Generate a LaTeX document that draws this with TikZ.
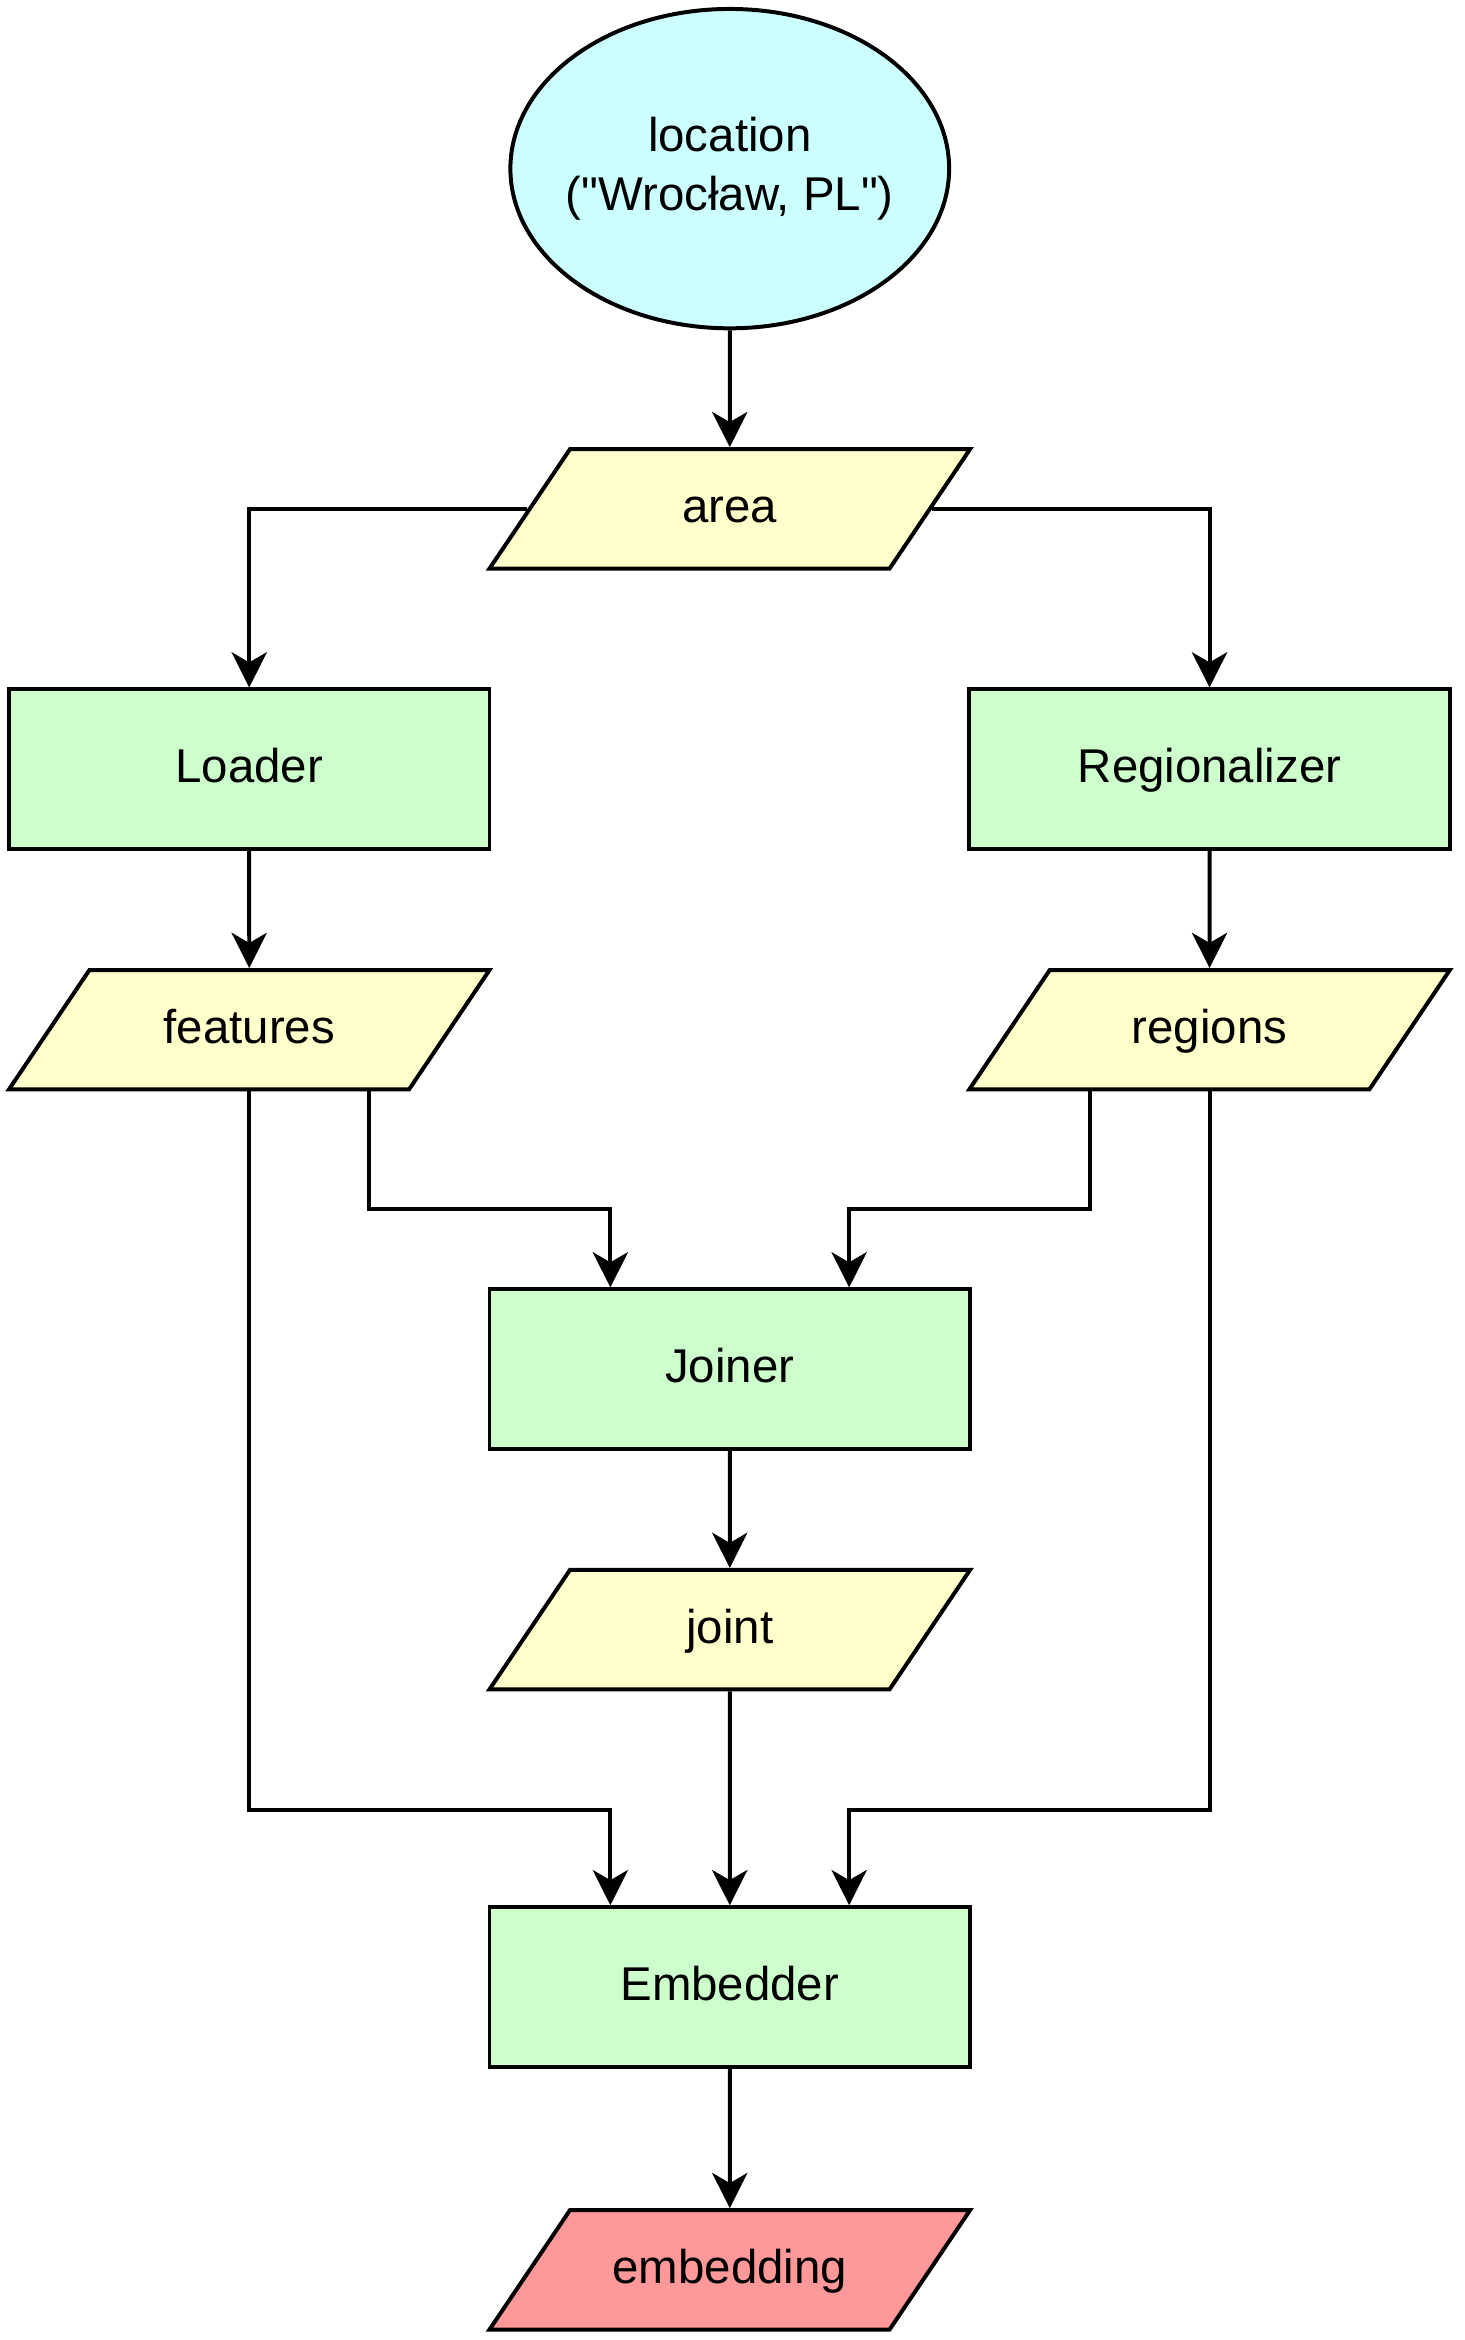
\documentclass[tikz,border=0pt]{standalone}
\usepackage{fontspec}
\setmainfont{Liberation Sans}[Ligatures=TeXOff]
\usetikzlibrary{arrows.meta,shapes.geometric}

\definecolor{inputcyan}{HTML}{CCFFFF}
\definecolor{datayellow}{HTML}{FFFFCC}
\definecolor{modulegreen}{HTML}{CCFFCC}
\definecolor{outputred}{HTML}{FF9999}

\tikzset{
    every node/.style={font=\fontsize{22.6pt}{28.4pt}\selectfont},
    source/.style={ellipse, draw, line width=1.9pt, fill=inputcyan, align=center,
        inner xsep=-0.6cm, inner ysep=0pt, minimum width=7.35cm, minimum height=5.35cm},
    data/.style={trapezium, trapezium left angle=56, trapezium right angle=124,
        trapezium stretches body=true, draw, line width=1.9pt, fill=datayellow,
        text height=17pt, text depth=4pt, inner ysep=0.63cm,
        minimum width=8.05cm, minimum height=2cm},
    module/.style={rectangle, draw, line width=1.9pt, fill=modulegreen,
        text height=17pt, text depth=4pt,
        minimum width=8.05cm, minimum height=2.675cm},
    flow/.style={-{Stealth[length=0.59cm, width=0.59cm, inset=0.17cm]}, line width=1.9pt},
}

\begin{document}
\begin{tikzpicture}

    \useasboundingbox (0,0) rectangle (24.525,-39.2);

    %% Pipeline diagram

    % Input
    \node[source] (location) at (12.225,-2.825) {location\\("Wrocław, PL")};
    \node[data] (area) at (12.225,-8.525) {area};

    % Loader and regionalizer
    \node[module] (loader) at (4.175,-12.8875) {Loader};
    \node[module] (regionalizer) at (20.2625,-12.8875) {Regionalizer};
    \node[data] (features) at (4.175,-17.25) {features};
    \node[data] (regions) at (20.2625,-17.25) {regions};

    % Joiner
    \node[module] (joiner) at (12.225,-22.9375) {Joiner};
    \node[data] (joint) at (12.225,-27.3) {joint};

    % Embedder
    \node[module] (embedder) at (12.225,-33.2875) {Embedder};
    \node[data, fill=outputred] (embedding) at (12.225,-38.025) {embedding};

    % Routing levels and ports
    \coordinate (upper) at (0,-20.25);
    \coordinate (lower) at (0,-30.325);
    \coordinate (feat out) at ([xshift=2cm]features.south);
    \coordinate (reg out) at ([xshift=-2cm]regions.south);
    \coordinate (join in l) at ([xshift=-2cm]joiner.north);
    \coordinate (join in r) at ([xshift=2cm]joiner.north);
    \coordinate (emb in l) at ([xshift=-2cm]embedder.north);
    \coordinate (emb in r) at ([xshift=2cm]embedder.north);

    % Connectors
    \draw[flow] (location) -- (area);
    \draw[flow] (area.west) -| (loader.north);
    \draw[flow] (area.east) -| (regionalizer.north);
    \draw[flow] (loader) -- (features);
    \draw[flow] (regionalizer) -- (regions);
    \draw[flow] (feat out) -- (feat out |- upper) -| (join in l);
    \draw[flow] (reg out) -- (reg out |- upper) -| (join in r);
    \draw[flow] (features.south) -- (features.south |- lower) -| (emb in l);
    \draw[flow] (regions.south) -- (regions.south |- lower) -| (emb in r);
    \draw[flow] (joiner) -- (joint);
    \draw[flow] (joint) -- (embedder);
    \draw[flow] (embedder) -- (embedding);

\end{tikzpicture}
\end{document}
